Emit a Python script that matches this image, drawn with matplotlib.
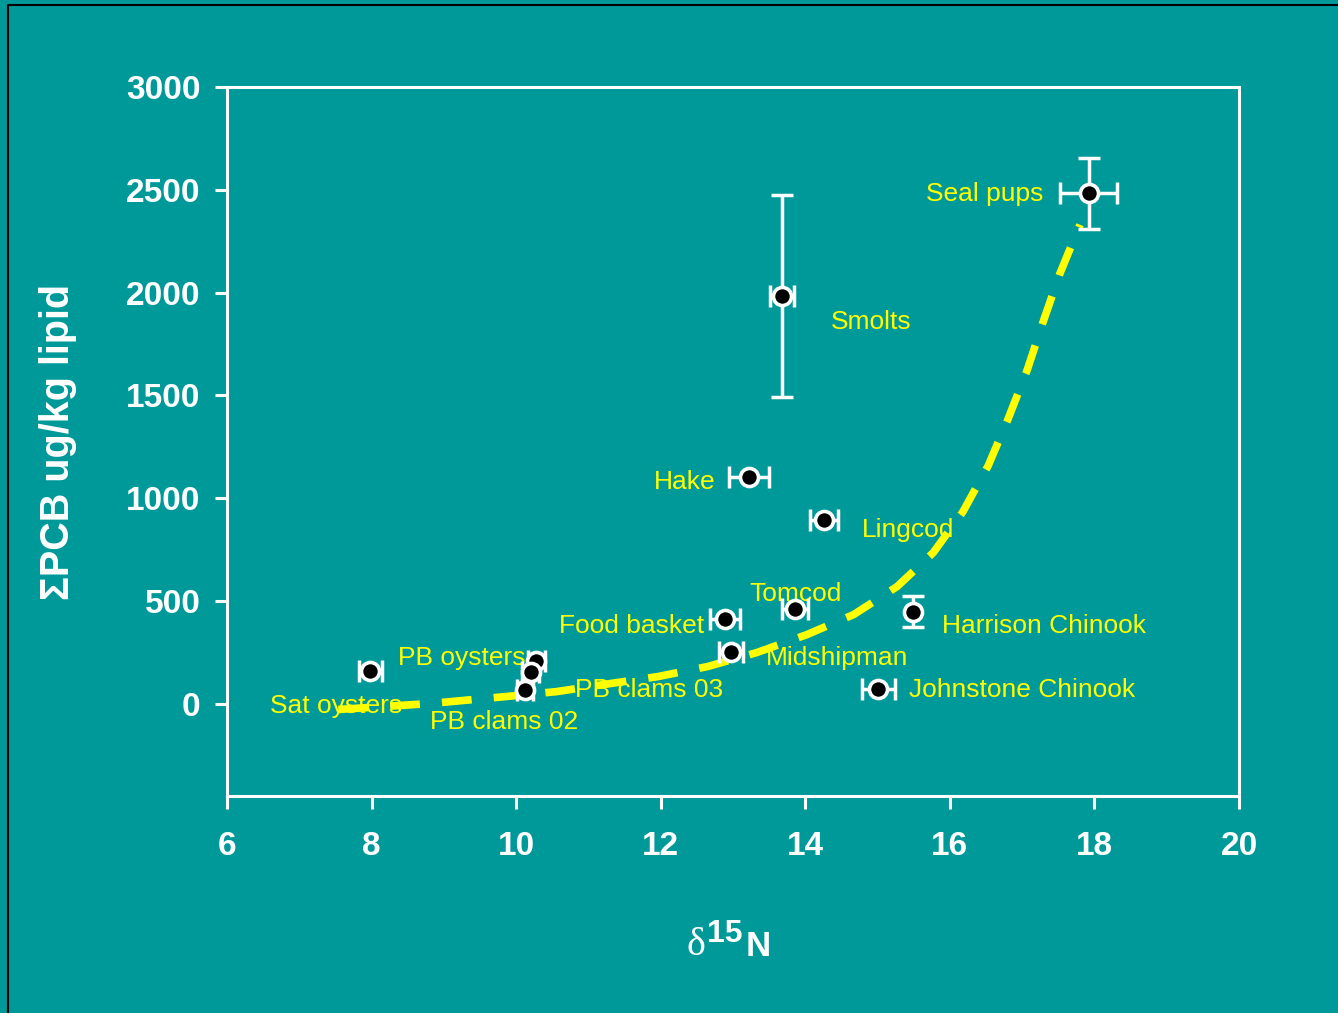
import numpy as np
import matplotlib.pyplot as plt
from matplotlib.lines import Line2D

plt.rcParams['font.family'] = ['Liberation Sans', 'DejaVu Sans']

# d15N vs sum PCB for each group (mean +/- error)
species = ['Sat oysters', 'PB oysters', 'PB oysters', 'PB clams', 'Food basket',
           'Midshipman', 'Tomcod', 'Hake', 'Lingcod', 'Smolts',
           'Harrison Chinook', 'Johnstone Chinook', 'Seal pups']
d15n = [7.98, 10.28, 10.20, 10.12, 12.89, 12.97, 13.86, 13.22, 14.26, 13.68, 15.49, 15.01, 17.92]
pcb = [157, 206, 151, 68, 413, 250, 462, 1104, 895, 1983, 447, 71, 2483]
d15n_err = [0.16, 0.12, 0.12, 0.11, 0.21, 0.17, 0.18, 0.28, 0.19, 0.17, np.nan, 0.23, 0.39]
pcb_err = [np.nan, np.nan, np.nan, np.nan, np.nan, np.nan, np.nan, np.nan, np.nan, 491,
           75, np.nan, 173]

# point labels
label_text = ['Sat oysters', 'PB oysters', 'PB clams 02', 'PB clams 03', 'Food basket',
              'Midshipman', 'Tomcod', 'Hake', 'Lingcod', 'Smolts',
              'Harrison Chinook', 'Johnstone Chinook', 'Seal pups']
label_x = [6.59, 8.37, 8.81, 10.81, 12.60, 13.46, 13.23, 12.76, 14.78, 14.36, 15.89, 15.43, 17.29]
label_y = [-10, 222, -88, 68, 378, 222, 535, 1078, 845, 1856, 378, 68, 2478]
label_ha = ['left', 'left', 'left', 'left', 'right', 'left', 'left', 'right', 'left', 'left',
            'left', 'left', 'right']

# trend curve
curve_x = [7.54, 8.81, 9.86, 10.56, 11.30, 11.96, 12.65, 13.33, 14.02, 14.67,
           15.27, 15.77, 16.18, 16.53, 16.80, 17.07, 17.29, 17.52, 17.80]
curve_y = [-29, 0, 34, 58, 97, 131, 180, 248, 335, 433,
           569, 734, 933, 1157, 1380, 1623, 1857, 2090, 2330]

bg = '#009999'
W, H = 1338, 1013
fig = plt.figure(figsize=(W / 100, H / 100), dpi=100, facecolor=bg)
ax = fig.add_axes([227 / W, 1 - 796 / H, (1239 - 227) / W, (796 - 87) / H])
ax.set_facecolor(bg)

for t, x, y, ha in zip(label_text, label_x, label_y, label_ha):
    ax.text(x, y, t, ha=ha, va='center', color='#ffff00', fontsize=19, zorder=1)

line, = ax.plot(curve_x, curve_y, color='#ffff00', lw=5.5, zorder=2)
line.set_dashes((3.9, 2.9))

ax.errorbar(d15n, pcb, xerr=d15n_err, yerr=pcb_err, fmt='none', ecolor='white',
            elinewidth=2.5, capsize=8, capthick=2.5, zorder=3)
ax.plot(d15n, pcb, 'o', color='black', markeredgecolor='white', ms=13, mew=2.6,
        zorder=4, ls='none')

ax.set_xlim(6, 20)
ax.set_ylim(-450, 3000)
ax.set_xticks(range(6, 21, 2))
ax.set_yticks(range(0, 3001, 500))
for s in ax.spines.values():
    s.set_color('white')
    s.set_linewidth(2.2)
ax.tick_params(colors='white', width=2.2, length=9, labelsize=24)
ax.tick_params(axis='x', pad=16)
ax.tick_params(axis='y', pad=10)
for lab in ax.get_xticklabels() + ax.get_yticklabels():
    lab.set_fontweight('bold')

ax.set_ylabel('\u03a3PCB ug/kg lipid', color='white', fontsize=28.5, fontweight='bold',
              labelpad=0)
ax.yaxis.set_label_coords(-0.148, 0.5, transform=ax.transAxes)

# x label: delta 15 N
fig.text(686 / W, 1 - 955 / H, '\u03b4', color='white', fontsize=29,
         family=['Liberation Serif', 'DejaVu Serif'], ha='left', va='baseline')
fig.text(707 / W, 1 - 942 / H, '15', color='white', fontsize=23, fontweight='bold',
         ha='left', va='baseline')
fig.text(746 / W, 1 - 956 / H, 'N', color='white', fontsize=25, fontweight='bold',
         ha='left', va='baseline')

# thin black frame on the left and top edges
fig.lines.append(Line2D([8 / W, 8 / W, 1.0], [0.0, 1 - 5 / H, 1 - 5 / H],
                        transform=fig.transFigure, color='black', lw=1.5))

fig.savefig('out.png', dpi=100, facecolor=bg)
